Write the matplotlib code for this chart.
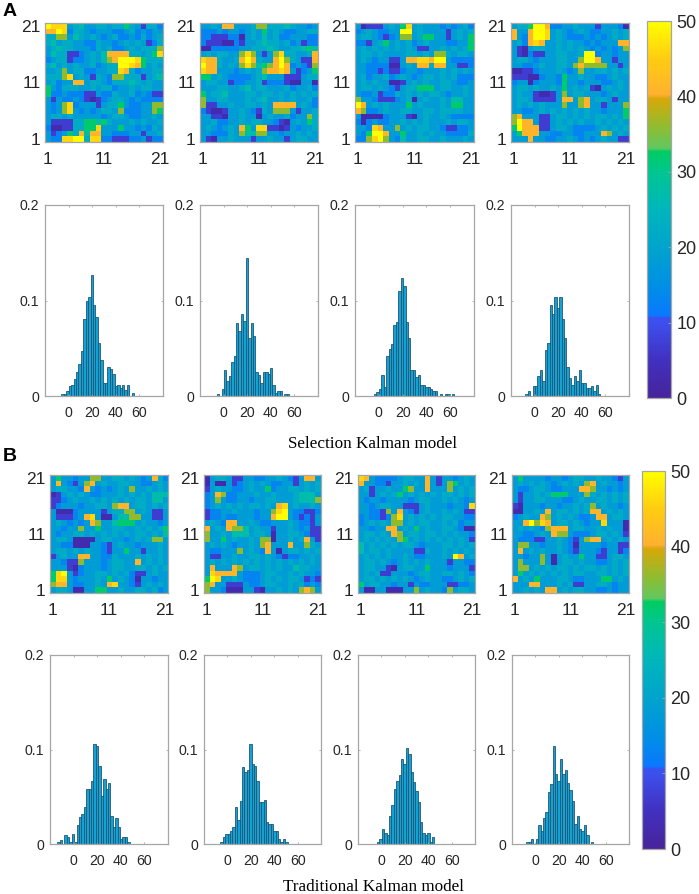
import numpy as np
import matplotlib
matplotlib.use('Agg')
import matplotlib.pyplot as plt
from matplotlib.colors import LinearSegmentedColormap

# each map: 21 rows top to bottom (21 -> 1), one code per cell
# the code is an index into levels below
levels = [3, 7, 13, 18, 22, 27, 32, 36, 41, 46, 50]

map_a1 = ["a999345 3344344 6431442", "88a9244 3233322 3423233", "4477354 3432342 2324234",
          "4534433 2243323 4343124", "3454433 3243422 3434447", "3544112 3435888 8443469",
          "2344122 343578a aa96444", "4534343 342344a a986343", "3347344 2233449 8423344",
          "4447934 3143277 4441345", "3423388 3443244 4543433", "6324443 3434423 3434433",
          "6223222 1132243 3423211", "3132232 1012344 3232222", "3237923 3313446 3223377",
          "3237932 3234437 2223376", "3443433 3332344 3223343", "3111144 6656433 3434334",
          "2001144 6693336 3323243", "3123648 5883322 2331334", "32299aa 4992211 1223122"]
map_a2 = ["3343883 3347744 4543323", "2223233 2343634 3223344", "2211122 0343534 2233322",
          "2111002 1334544 3423122", "0022222 3344454 3344565", "3434433 7973137 9443348",
          "9884334 8a84338 a743118", "a884343 7975678 a823217", "9883332 3434788 9831236",
          "6634322 2234533 3111344", "3443312 2334122 2100330", "3334433 4534433 3423342",
          "6344533 3443443 4343434", "7334433 3434533 4343342", "7113343 3443438 8883432",
          "2100133 4321437 7731334", "3311033 4330343 3423374", "3342233 4344332 1034364",
          "3432343 8639911 0132334", "3322243 7557733 2334343", "3103343 3313343 3134433"]
map_a3 = ["3011134 3693433 3232342", "2343223 3aa3433 3313434", "3443212 3773466 3313436",
          "2213463 4342343 3322336", "3434343 4343113 3434346", "3443433 3344343 7743443",
          "3432331 1388998 aa32222", "3322220 0343884 8833112", "3322121 1233233 3434343",
          "3423342 3432344 3434222", "3434330 0134343 3443223", "3443432 1344666 3443343",
          "3223122 4343434 4323343", "7332111 2340343 3435533", "a834343 3363433 3436633",
          "8722343 3443344 3444433", "3000023 3310343 3432222", "2023223 3434343 3343443",
          "3329833 7343443 3211223", "326aa83 3633434 3322224", "2279a73 2533443 3433343"]
map_a4 = ["3446aa8 2233433 3133320", "8338aa9 3432343 2233434", "8328aa9 3432223 2323434",
          "3428983 3434332 3233388", "3103443 3434343 2323237", "3102113 344334a a233233",
          "3443233 344337a a833133", "3322343 3443787 7773313", "0011233 3432373 3443434",
          "1110023 3263343 3223433", "2330233 3263323 3322343", "3443433 4363434 1034343",
          "3433100 1373443 3323433", "3443111 1388378 3443133", "3434343 3373378 3313337",
          "3322343 4343434 3323336", "7833311 3443434 3443436", "7a88311 3434343 3434343",
          "6a88811 3443222 2343434", "3688833 2233223 3387343", "3338332 2334323 2343311"]
map_b1 = ["3633233 7733443 4323842", "3832137 8343344 3322343", "3443328 3232343 7334343",
          "0134343 2233343 4343555", "1123433 4343434 3443553", "1233323 3443788 3443434",
          "3000233 3313447 7343113", "3111238 9300355 7733113", "3432323 8733566 6343323",
          "3323373 3633443 3434346", "3233443 4343434 3443435", "3443000 0344332 3434773",
          "3322000 3321343 3233343", "3443434 3321336 3313343", "1343388 3322433 3434343",
          "3321173 3323443 3834343", "3331023 3323443 3443434", "69a3123 3443434 2113433",
          "6993233 3436343 2033233", "7883223 3438933 2134343", "3443003 3663343 3443423"]
map_b2 = ["0344311 3322334 3213883", "0300312 3434322 3313434", "1343322 3433623 3443434",
          "2387223 3343343 3345553", "2373223 3233443 3345557", "2343434 3443438 9343343",
          "1223343 3323379 a322112", "1223223 332338a a321213", "3432883 3432233 3432213",
          "8343877 5343313 3432311", "7334355 5344303 3443211", "7336343 3437703 3434831",
          "3434323 3437833 3833743", "3223337 3432830 3443434", "3113343 3443432 1223343",
          "3434343 4343434 3434343", "3833387 3443434 3354433", "3988883 2223443 3434332",
          "6a93343 2223434 3443121", "7833111 3223443 3434232", "7332000 3310334 3437873"]
map_b3 = ["9832222 3443383 1332343", "8332213 3434383 1376343", "3413343 3673383 3373434",
          "3313434 6343434 3443434", "3233233 3323443 3434323", "3323443 3111343 3323329",
          "3322173 8321343 3434311", "2322127 9343434 3443322", "2343437 7343443 3434233",
          "3323388 3436343 3443200", "3443438 7344344 3434332", "3434343 7634343 4343431",
          "5343434 3443233 3443434", "5344343 3331143 3434343", "3434343 3432233 343a834",
          "3443432 3434343 3313322", "3443310 3443363 3323331", "3434113 3323443 3443432",
          "3443434 3432343 3223434", "6344332 3313223 3311223", "3003300 0337343 3273443"]
map_b4 = ["3633332 3323443 3433213", "3434343 2343437 8343323", "3223443 2233388 7332323",
          "3133434 6663337 4343434", "3133443 3322343 3443434", "1033323 3233434 7343323",
          "0033438 3443434 8834343", "2343387 3434322 3883443", "338a798 3443432 3393330",
          "3434327 8883443 3434330", "3322343 8773222 3443431", "3222113 3432137 8834343",
          "3773323 3432033 3323311", "3834343 3432133 3213312", "3323373 0343363 3113443",
          "3733373 0344343 3223434", "3773434 3443434 4343434", "3634343 4343443 3443434",
          "8343633 3443223 3366343", "3338833 3434113 3443233", "3343438 8343443 3223233"]

# histogram bar heights, left to right
hist_a1 = [.002, .002, .005, .010, .012, .018, .025, .034, .047, .081, .100, .104, .127, .095, .083,
           .055, .038, .014, .014, .030, .028, .023, .010, .011, .008, .011, .006, .011, 0, .003]
hist_a2 = [.002, 0, .007, .027, .016, .021, .036, .042, .076, .068, .086, .079, .144, .061, .076,
           .063, .025, .022, .014, .025, .025, .023, .029, .011, .003, .005, .005, 0, .002, .002]
hist_a3 = [.002, .004, .007, .022, .009, .042, .049, .054, .074, .077, .110, .124, .115, .077, .061, .027,
           .027, .020, .022, .011, .011, .009, .009, .007, .005, .005, 0, .002, 0, .002, .002, 0, .002]
hist_a4 = [.002, .005, 0, .010, .010, .021, .027, .016, .048, .055, .095, .086, .104, .092, .104, .081,
           .061, .030, .019, .012, .021, .016, .027, .014, .014, .008, .008, .010, .005, .012, .002]
hist_b1 = [.002, .004, 0, .009, .007, .002, .011, .002, .020, .029, .032, .039, .058, .058, .067, .106,
           .104, .083, .051, .069, .058, .065, .030, .018, .027, .018, .005, .007, .007, .002]
hist_b2 = [.002, .007, .011, .011, .014, .018, .039, .025, .046, .081, .076, .078, .106, .085, .083,
           .067, .044, .044, .047, .023, .021, .021, .014, .014, .005, .002, .005, .002]
hist_b3 = [.002, .005, .016, .012, .010, .030, .041, .058, .067, .073, .090, .085, .102, .095, .076,
           .066, .056, .044, .023, .012, .010, .012, .002, .007]
hist_b4 = [.002, .002, .005, 0, .005, .020, .014, .027, .034, .055, .064, .104, .074, .067, .090, .074,
           .078, .065, .057, .046, .021, .030, .016, .014, .020, .009, 0, .002]

# centre of the first bar of each histogram, and the bar spacing
first_a = [-5.0, -4.8, -3.1, -6.8]
first_b = [-12.9, -4.9, -2.8, -6.8]
bin_step = 2.05

cbar_ticks = [0, 10, 20, 30, 40, 50]
map_ticks = [1, 11, 21]
hist_xticks = [0, 20, 40, 60]
hist_yticks = [0, 0.1, 0.2]
hist_ylabels = ['0', '0.1', '0.2']

W, H = 699, 894
GREY = '#a6a6a6'
TXT = '#262626'

plt.rcParams['font.family'] = ['Liberation Sans', 'DejaVu Sans']

# colorbar has visible jumps near 11, 33 and 40
cmap = LinearSegmentedColormap.from_list('kalman', [
    (0.00, '#46249a'), (0.10, '#4230c0'), (0.20, '#3c50ee'), (0.212, '#3c50ee'), (0.218, '#0a78ff'),
    (0.30, '#0090e4'), (0.40, '#00a4cc'), (0.50, '#00b6bc'), (0.60, '#00c690'),
    (0.655, '#00cc62'), (0.662, '#60c860'), (0.72, '#90bc30'), (0.795, '#d8a808'), (0.805, '#ffb030'),
    (0.90, '#ffcc10'), (1.00, '#ffff00')], N=512)


def px_axes(fig, x0, x1, y0, y1):
    # axes from pixel edges of the 699x894 picture
    return fig.add_axes([x0 / W, 1 - y1 / H, (x1 - x0) / W, (y1 - y0) / H])


def style_box(ax):
    for s in ax.spines.values():
        s.set_color(GREY)
        s.set_linewidth(0.9)


def draw_map(ax, rows):
    data = np.array([[levels[int(c, 16)] for c in r.replace(' ', '')] for r in rows], dtype=float)
    im = ax.imshow(data[::-1], origin='lower', extent=(0.5, 21.5, 0.5, 21.5), cmap=cmap,
                   vmin=0, vmax=50, aspect='auto', interpolation='nearest')
    ax.set_xticks(map_ticks)
    ax.set_yticks(map_ticks)
    ax.tick_params(length=0, labelsize=12.5, labelcolor=TXT)
    ax.tick_params(axis='x', pad=7)
    ax.tick_params(axis='y', pad=3)
    style_box(ax)
    return im


def draw_hist(ax, heights, first):
    centers = first + bin_step * np.arange(len(heights))
    ax.bar(centers, heights, width=bin_step, color='#15a2d2', edgecolor='#1d5878', linewidth=0.6)
    ax.set_xlim(-20, 80)
    ax.set_ylim(0, 0.2)
    ax.set_xticks(hist_xticks)
    ax.set_yticks(hist_yticks)
    ax.set_yticklabels(hist_ylabels)
    ax.tick_params(direction='in', length=1.5, width=0.6, color=GREY, top=True, right=True,
                   labelsize=10.2, labelcolor=TXT)
    ax.tick_params(axis='x', pad=7)
    ax.tick_params(axis='y', pad=4)
    style_box(ax)


map_x_a = [(45, 163), (200, 318), (355, 474), (511, 629)]
map_x_b = [(50, 168), (204, 321), (358, 475), (512, 629)]

fig = plt.figure(figsize=(W / 100, H / 100), dpi=100)

for (x0, x1), rows in zip(map_x_a, [map_a1, map_a2, map_a3, map_a4]):
    im = draw_map(px_axes(fig, x0, x1, 23, 142), rows)
for (x0, x1), vals, first in zip(map_x_a, [hist_a1, hist_a2, hist_a3, hist_a4], first_a):
    draw_hist(px_axes(fig, x0, x1, 205, 396), vals, first)
for (x0, x1), rows in zip(map_x_b, [map_b1, map_b2, map_b3, map_b4]):
    draw_map(px_axes(fig, x0, x1, 475, 593), rows)
for (x0, x1), vals, first in zip(map_x_b, [hist_b1, hist_b2, hist_b3, hist_b4], first_b):
    draw_hist(px_axes(fig, x0, x1, 655, 844), vals, first)

for box in [(647, 671, 21, 398), (642, 665, 471, 849)]:
    cax = px_axes(fig, *box)
    cb = fig.colorbar(im, cax=cax, ticks=cbar_ticks)
    cb.ax.tick_params(direction='in', length=2, width=0.6, color=GREY, labelsize=13,
                      labelcolor=TXT, pad=4)
    cb.outline.set_edgecolor(GREY)
    cb.outline.set_linewidth(0.9)

fig.text(3 / W, 1 - 12 / H, 'A', fontsize=14, fontweight='bold', color='black', va='center')
fig.text(3 / W, 1 - 457 / H, 'B', fontsize=14, fontweight='bold', color='black', va='center')
fig.text(373 / W, 1 - 444 / H, 'Selection Kalman model', family='Liberation Serif', fontsize=12.3,
         color='black', ha='center', va='center')
fig.text(373 / W, 1 - 887 / H, 'Traditional Kalman model', family='Liberation Serif', fontsize=12.3,
         color='black', ha='center', va='center')

fig.savefig('out.png', dpi=100)
